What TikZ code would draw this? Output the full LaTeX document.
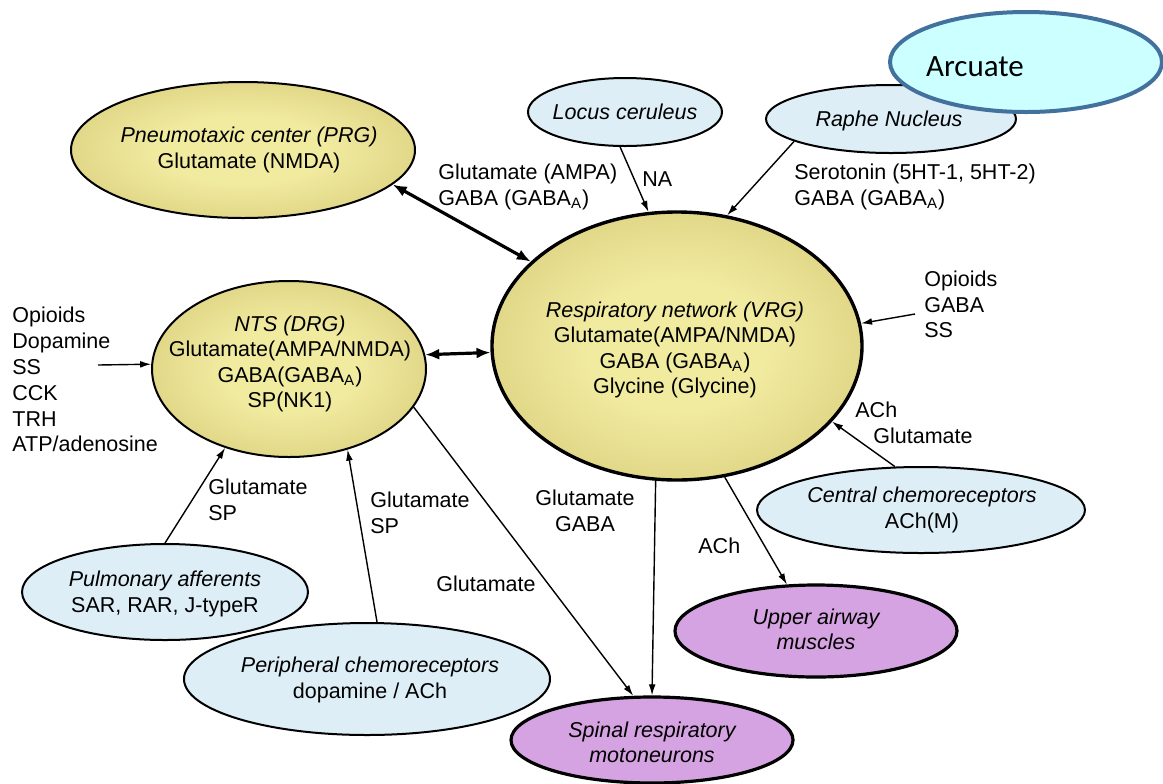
\documentclass[tikz,border=0pt]{standalone}
\usepackage{fontspec}
\setmainfont{Liberation Sans}
\newfontfamily\calib{Carlito}
\usetikzlibrary{shapes.geometric,arrows.meta}

\definecolor{goldin}{RGB}{241,235,160}
\definecolor{goldout}{RGB}{196,178,92}
\definecolor{paleblue}{RGB}{221,238,247}
\definecolor{mauve}{RGB}{213,162,226}
\definecolor{arcfill}{RGB}{204,255,255}
\definecolor{arcline}{RGB}{65,113,156}

% glowing fill for the brainstem centres
\pgfdeclareradialshading{goldglow}{\pgfpoint{0bp}{0bp}}{color(0bp)=(goldin); color(12bp)=(goldin); color(50bp)=(goldout)}

\newcommand\mainsize{\fontsize{10.75}{12.65}\selectfont}

\tikzset{
  region/.style={ellipse, draw=black, line width=1pt, inner sep=0pt},
  gold/.style={region, shade, shading=goldglow},
  sky/.style={region, fill=paleblue},
  muscle/.style={region, fill=mauve, line width=1.6pt},
  txt/.style={align=center, inner sep=0pt, font=\mainsize},
  lbl/.style={align=left, inner sep=0pt, font=\mainsize},
  arr/.style={-{Latex[length=5.5pt,width=3.4pt]}, line width=0.7pt},
  dbl/.style={{Latex[length=7pt,width=5.5pt]}-{Latex[length=7pt,width=5.5pt]}, line width=1.6pt},
}

\begin{document}
\begin{tikzpicture}[x=0.5pt,y=-0.5pt]
\useasboundingbox (0,0) rectangle (1163,783);
\fill[white] (0,0) rectangle (1163,783);

% ---- regions ----
\node[gold, minimum width=172pt, minimum height=68pt] (prg) at (243,150) {};
\node[sky, minimum width=97pt, minimum height=34pt] (loc) at (625,112) {};
\node[sky, minimum width=125pt, minimum height=34pt] (rap) at (891,119) {};
\node[region, fill=arcfill, draw=arcline, line width=2pt, minimum width=136pt, minimum height=50pt] (arc) at (1026,62) {};
\node[gold, line width=1.7pt, minimum width=185pt, minimum height=134pt] (vrg) at (677,346) {};
\node[gold, minimum width=137pt, minimum height=88pt] (nts) at (289,369) {};
\node[sky, minimum width=164pt, minimum height=43pt] (cen) at (921,510) {};
\node[muscle, minimum width=141pt, minimum height=46pt] (upa) at (816,631) {};
\node[muscle, minimum width=141pt, minimum height=43pt] (spi) at (652,740) {};
\node[sky, minimum width=143pt, minimum height=48pt] (pul) at (165,592) {};
\node[sky, minimum width=183pt, minimum height=56pt] (per) at (367,679) {};

% ---- region texts ----
\node[txt] (prgT) at (249,150) {{\itshape Pneumotaxic center (PRG)}\\Glutamate (NMDA)};
\node[txt] (locT) at (625,112) {\itshape Locus ceruleus};
\node[txt] (rapT) at (889,121) {\itshape Raphe Nucleus};
\node[inner sep=0pt, font=\calib\fontsize{15.5}{18}\selectfont] (arcT) at (975,67) {Arcuate};
\node[txt] (vrgT) at (675,350) {{\itshape Respiratory network (VRG)}\\Glutamate(AMPA/NMDA)\\GABA (GABA\textsubscript{A})\\Glycine (Glycine)};
\node[txt] (ntsT) at (290,364) {{\itshape NTS (DRG)}\\Glutamate(AMPA/NMDA)\\GABA(GABA\textsubscript{A})\\SP(NK1)};
\node[txt] (cenT) at (922,510) {{\itshape Central chemoreceptors}\\ACh(M)};
\node[txt] (upaT) at (816,629) {{\itshape Upper airway}\\{\itshape muscles}};
\node[txt] (spiT) at (652,742) {{\itshape Spinal respiratory}\\{\itshape motoneurons}};
\node[txt] (pulT) at (165,594) {{\itshape Pulmonary afferents}\\SAR, RAR, J-typeR};
\node[txt] (perT) at (370,680) {{\itshape Peripheral chemoreceptors}\\dopamine / ACh};

% ---- transmitter labels ----
\node[lbl, anchor=north west] (prgL) at (438,164) {Glutamate (AMPA)\\GABA (GABA\textsubscript{A})};
\node[lbl, anchor=base west] (locL) at (642,186) {NA};
\node[lbl, anchor=north west] (rapL) at (794,164) {Serotonin (5HT-1, 5HT-2)\\GABA (GABA\textsubscript{A})};
\node[lbl, anchor=north west] (opiL) at (924,271) {Opioids\\GABA\\SS};
\node[lbl, anchor=north west, font=\fontsize{10.75}{12.9}\selectfont] (modL) at (12,307) {Opioids\\Dopamine\\SS\\CCK\\TRH\\ATP/adenosine};
\node[lbl, anchor=base west] (cenL1) at (855,417) {ACh};
\node[lbl, anchor=base west] (cenL2) at (873,443) {Glutamate};
\node[lbl, anchor=north west] (pulL) at (208,479) {Glutamate\\SP};
\node[lbl, anchor=north west] (perL) at (370,492) {Glutamate\\SP};
\node[txt, anchor=north] (spiL) at (585,490) {Glutamate\\GABA};
\node[lbl, anchor=base west] (diaL) at (436,591) {Glutamate};
\node[lbl, anchor=base west] (upaL) at (698,553) {ACh};

% free ends of the modulator inputs
\coordinate (opiEnd) at (915,314);
\coordinate (modEnd) at (98,365);

% ---- connections ----
\draw[dbl] (prg.-13.4) -- (vrg.150.8);
\draw[dbl] (nts.6) -- (vrg.182);
\draw[arr] (loc.262) -- (vrg.102.7);
\draw[arr] (rap.193.4) -- (vrg.69.1);
\draw[arr] (opiEnd) -- (vrg.7.9);
\draw[arr] (modEnd) -- (nts.178);
\draw[arr] (pul.90) -- (nts.231.5);
\draw[arr] (per.80.9) -- (nts.-54);
\draw[arr] (nts.-17.6) -- (spi.113.8);
\draw[arr] (vrg.261.9) -- (spi.90);
\draw[arr] (vrg.-70.9) -- (upa.122.8);
\draw[arr] (cen.121.5) -- (vrg.-26.3);
\end{tikzpicture}
\end{document}
